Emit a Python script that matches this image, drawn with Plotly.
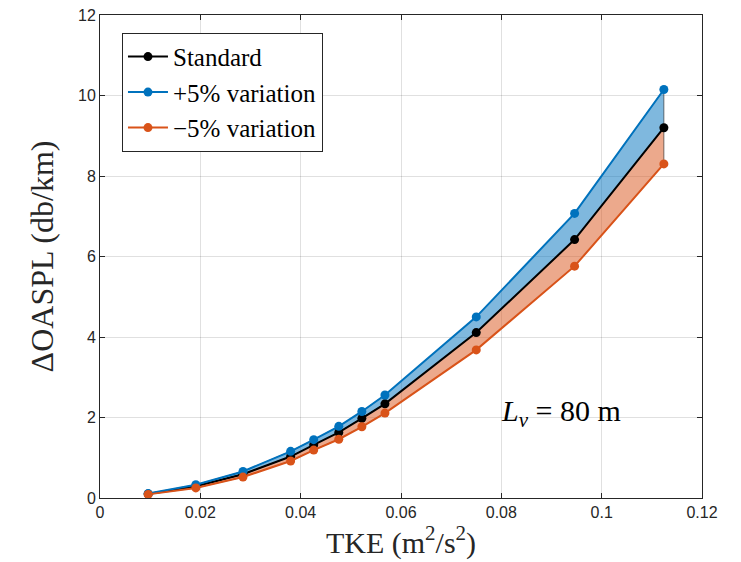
import plotly.graph_objects as go

tke = [0.0096, 0.0191, 0.0285, 0.0380, 0.0426, 0.0476, 0.0522, 0.0568, 0.0750, 0.0946, 0.1124]
standard = [0.10, 0.29, 0.59, 1.03, 1.32, 1.63, 1.98, 2.34, 4.11, 6.42, 9.20]
plus5 = [0.11, 0.33, 0.66, 1.16, 1.45, 1.78, 2.15, 2.56, 4.50, 7.07, 10.15]
minus5 = [0.09, 0.25, 0.52, 0.92, 1.19, 1.46, 1.77, 2.11, 3.68, 5.76, 8.30]

BLUE = "#0072BD"
ORANGE = "#D95319"
serif = "Liberation Serif"
sans = "Liberation Sans"

fig = go.Figure()
# shaded bands
fig.add_trace(go.Scatter(x=tke + tke[::-1], y=plus5 + standard[::-1], fill="toself",
                         fillcolor="rgba(0,114,189,0.5)", line=dict(color="rgba(40,40,40,0.8)", width=0.8),
                         mode="lines", showlegend=False, hoverinfo="skip"))
fig.add_trace(go.Scatter(x=tke + tke[::-1], y=standard + minus5[::-1], fill="toself",
                         fillcolor="rgba(217,83,25,0.5)", line=dict(color="rgba(40,40,40,0.8)", width=0.8),
                         mode="lines", showlegend=False, hoverinfo="skip"))

fig.add_trace(go.Scatter(x=tke, y=standard, mode="lines+markers", name="Standard",
                         line=dict(color="black", width=2), marker=dict(size=9, color="black")))
fig.add_trace(go.Scatter(x=tke, y=plus5, mode="lines+markers", name="+5% variation",
                         line=dict(color=BLUE, width=2), marker=dict(size=9, color=BLUE)))
fig.add_trace(go.Scatter(x=tke, y=minus5, mode="lines+markers", name="\u22125% variation",
                         line=dict(color=ORANGE, width=2), marker=dict(size=9, color=ORANGE)))

fig.add_annotation(x=0.0795, y=2.1, xref="x", yref="y", xanchor="left", yanchor="middle",
                   text="<i>L</i><sub><i>v</i></sub> = 80 m", showarrow=False,
                   font=dict(family=serif, size=30, color="black"))

axis_common = dict(showline=True, linecolor="#262626", linewidth=1, mirror="allticks",
                   ticks="inside", ticklen=5, tickcolor="#262626",
                   showgrid=True, gridcolor="rgba(0,0,0,0.12)", gridwidth=1, zeroline=False,
                   ticklabeloverflow="allow", automargin=False,
                   tickfont=dict(family=sans, size=16, color="#262626"))

fig.update_xaxes(range=[0, 0.12], tickvals=[0, 0.02, 0.04, 0.06, 0.08, 0.1, 0.12],
                 ticktext=["0", "0.02", "0.04", "0.06", "0.08", "0.1", "0.12"],
                 title=dict(text="TKE (m<sup>2</sup>/s<sup>2</sup>)", font=dict(family=serif, size=30, color="#262626"),
                            standoff=4),
                 **axis_common)
fig.update_yaxes(range=[0, 12], tickvals=[0, 2, 4, 6, 8, 10, 12],
                 title=dict(text="\u0394OASPL (db/km)", font=dict(family=serif, size=32, color="#262626"),
                            standoff=14),
                 **axis_common)

# body has an 8px margin in the saved page; offset margins accordingly
fig.update_layout(width=741, height=562, plot_bgcolor="white", paper_bgcolor="white",
                  margin=dict(l=92, r=47, t=7, b=72),
                  legend=dict(x=0.0365, y=0.963, xanchor="left", yanchor="top",
                              bgcolor="white", bordercolor="#262626", borderwidth=1,
                              font=dict(family=serif, size=25, color="black"),
                              tracegroupgap=0, itemwidth=40))

fig.write_html("out.html")
